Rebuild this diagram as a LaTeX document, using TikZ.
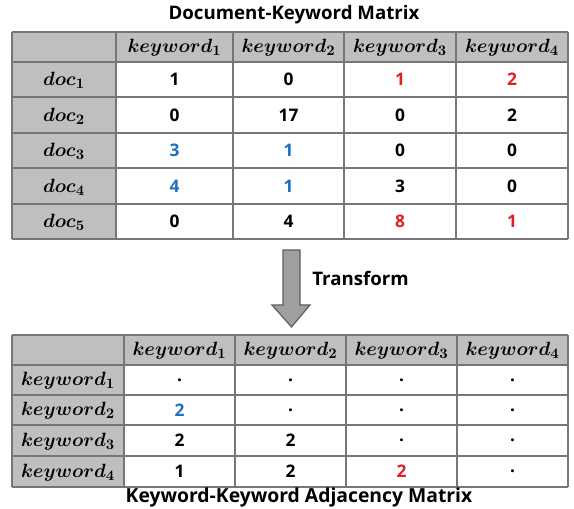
\documentclass[tikz,border=0pt]{standalone}
\usepackage{fontspec}
\usepackage{amsmath, bm}
\setsansfont{Open Sans}
\usepackage{tikz}

\definecolor{hdrgray}{RGB}{191,191,191}
\definecolor{gridgray}{RGB}{118,118,118}
\definecolor{kwblue}{RGB}{30,112,190}
\definecolor{kwred}{RGB}{228,28,36}

\begin{document}
\begin{tikzpicture}[x=0.75pt,y=0.75pt,yscale=-1,xscale=1,
    grid/.style={draw=gridgray,line width=0.9pt},
    ttl/.style={font=\sffamily\bfseries\fontsize{14}{16}\selectfont,inner sep=0.75pt},
    kw/.style={font=\fontsize{15}{17}\selectfont,inner sep=0.75pt},
    num/.style={font=\sffamily\bfseries\fontsize{13}{15}\selectfont,inner sep=0.75pt}]
    \path[use as bounding box] (0,0) rectangle (574,509);

    % Title top
    \node[ttl] (ttldk) at (294,15) {Document-Keyword Matrix};

    % Table: document-keyword
    \fill[hdrgray] (12,32) rectangle (568,62);
    \fill[hdrgray] (12,62) rectangle (116,239);
    \foreach \x in {12,116,233,344,456,568}
        \draw[grid] (\x,32) -- (\x,239);
    \foreach \y in {32,62,97,133,168,204,239}
        \draw[grid] (12,\y) -- (568,\y);

    \foreach \xa/\xb [count=\i] in {116/233,233/344,344/456,456/568}
        \node[kw] (dkhead\i) at ({(\xa+\xb)/2},48) {$\bm{keyword_{\i}}$};

    \foreach \ya/\yb/\r [count=\i] in {62/97/{1/black,0/black,1/kwred,2/kwred},
                                       97/133/{0/black,17/black,0/black,2/black},
                                       133/168/{3/kwblue,1/kwblue,0/black,0/black},
                                       168/204/{4/kwblue,1/kwblue,3/black,0/black},
                                       204/239/{0/black,4/black,8/kwred,1/kwred}}{
        \node[kw] (doc\i) at (64,{(\ya+\yb)/2+1}) {$\bm{doc_{\i}}$};
        \foreach \v/\c [count=\j] in \r {
            \pgfmathsetmacro\cx{{174.5,288.5,400,512}[\j-1]}
            \node[num,text=\c] (dk\i-\j) at (\cx,{(\ya+\yb)/2}) {\v};
        }
    }

    % Arrow
    \draw[draw=gridgray!80!black,fill=gray!75,line width=0.9pt]
        (283,250) -- (300,250) -- (300,305) -- (310,305) -- (291.5,327)
        -- (272,305) -- (283,305) -- cycle;
    \node[ttl,anchor=west] (trans) at (311,278) {Transform};

    % Table: keyword-keyword
    \fill[hdrgray] (12,335) rectangle (568,365);
    \fill[hdrgray] (12,365) rectangle (124,487);
    \foreach \x in {12,124,235,346,457,568}
        \draw[grid] (\x,335) -- (\x,487);
    \foreach \y in {335,365,395,425,456,487}
        \draw[grid] (12,\y) -- (568,\y);

    \foreach \xa/\xb [count=\i] in {124/235,235/346,346/457,457/568}
        \node[kw] (kkhead\i) at ({(\xa+\xb)/2},351) {$\bm{keyword_{\i}}$};

    \foreach \ya/\yb/\r [count=\i] in {365/395/{./black,./black,./black,./black},
                                       395/425/{2/kwblue,./black,./black,./black},
                                       425/456/{2/black,2/black,./black,./black},
                                       456/487/{1/black,2/black,2/kwred,./black}}{
        \node[kw] (kwrow\i) at (68,{(\ya+\yb)/2+1}) {$\bm{keyword_{\i}}$};
        \foreach \v/\c [count=\j] in \r {
            \pgfmathsetmacro\cx{{179.5,290.5,401.5,512.5}[\j-1]}
            \node[num,text=\c] (kk\i-\j) at (\cx,{(\ya+\yb)/2}) {\v};
        }
    }

    % Title bottom
    \node[ttl,font=\sffamily\bfseries\fontsize{14.5}{16}\selectfont] (ttlkk) at (299,497) {Keyword-Keyword Adjacency Matrix};

\end{tikzpicture}
\end{document}
